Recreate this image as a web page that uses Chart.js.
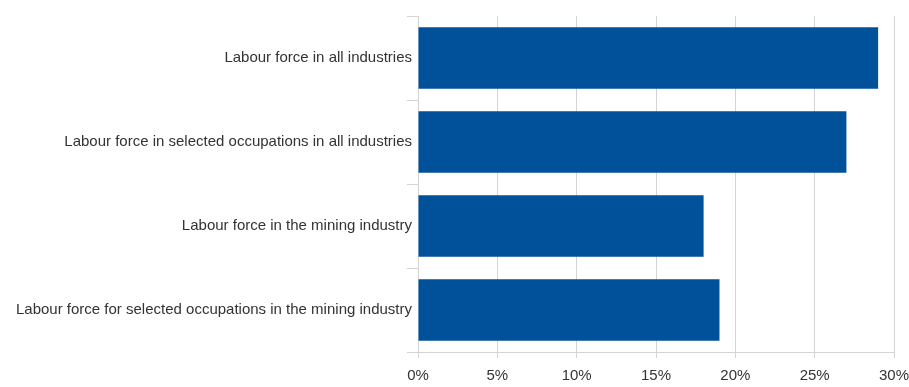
<!DOCTYPE html>
<html lang="en">
<head>
<meta charset="UTF-8">
<title>Labour force shares</title>
<script src="https://cdn.jsdelivr.net/npm/chart.js"></script>
<style>
  html, body { margin: 0; padding: 0; background: #fff; }
  #wrap { width: 909px; height: 387px; }
</style>
</head>
<body>
<div id="wrap"><canvas id="myChart"></canvas></div>
<script>
    // categories and shares (percent)
    const categories = [
        "Labour force in all industries",
        "Labour force in selected occupations in all industries",
        "Labour force in the mining industry",
        "Labour force for selected occupations in the mining industry"
    ];
    const shares = [29, 27, 18, 19];
    const xTicks = [0, 5, 10, 15, 20, 25, 30];

    const fontFamily = "'Liberation Sans', Arial, sans-serif";
    const gridColor = "#d4d4d4";

    const ctx = document.querySelector('#myChart');
    const shareChart = new Chart(ctx, {
        type: 'bar',
        data: {
            labels: categories,
            datasets: [{
                data: shares,
                backgroundColor: '#005199',
                borderWidth: 0,
                categoryPercentage: 0.73,
                barPercentage: 1
            }]
        },
        options: {
            indexAxis: 'y',
            responsive: true,
            maintainAspectRatio: false,
            animation: false,
            layout: { padding: { top: 16, right: 0, left: 0, bottom: 0 } },
            plugins: {
                legend: { display: false },
                tooltip: { enabled: false }
            },
            scales: {
                x: {
                    min: 0,
                    max: 30,
                    afterBuildTicks: s => { s.ticks = xTicks.map(v => ({ value: v })); },
                    // keep room for the "30%" label only
                    afterFit: s => { s.height = 35; s.paddingRight = 15; },
                    grid: { color: gridColor, lineWidth: 1, tickLength: 6 },
                    border: { color: gridColor, width: 1 },
                    ticks: {
                        color: '#333',
                        padding: 9,
                        font: { family: fontFamily, size: 15 },
                        callback: v => v + '%'
                    }
                },
                y: {
                    afterFit: s => { s.width = 418; },
                    grid: { drawOnChartArea: false, color: gridColor, tickLength: 11, offset: true },
                    border: { color: gridColor, width: 1 },
                    ticks: {
                        color: '#333',
                        padding: -5,
                        font: { family: fontFamily, size: 15 }
                    }
                }
            }
        }
    });
</script>
</body>
</html>
